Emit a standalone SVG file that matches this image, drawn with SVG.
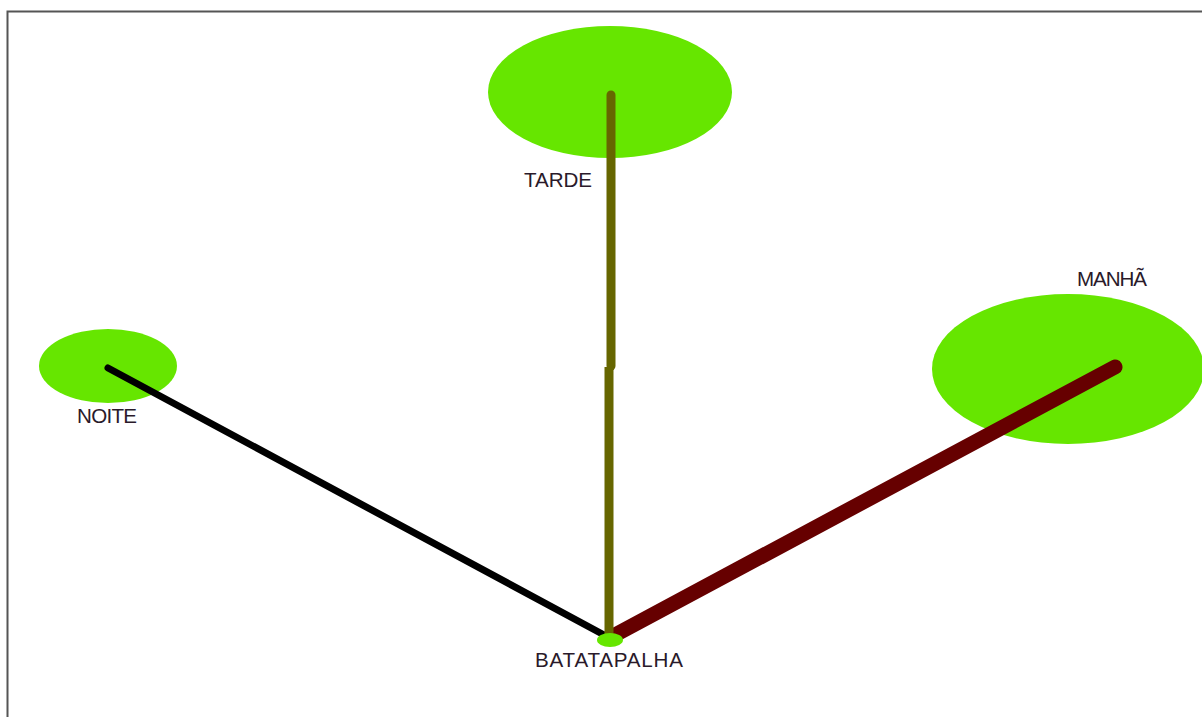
<svg xmlns="http://www.w3.org/2000/svg" width="1202" height="717" viewBox="0 0 1202 717">
<style>
.n{fill:#66e600}
.t{font-family:"Liberation Sans",Arial,sans-serif;font-size:20.6px;fill:#2a1a2a}
.c{fill:none;stroke-linecap:round}
</style>
<rect x="0" y="0" width="1202" height="717" fill="#fff"/>
<path d="M7.5 717V11.5H1202" fill="none" stroke="#555" stroke-width="2"/>
<g id="node-tarde"><ellipse class="n" cx="610" cy="92" rx="122" ry="66"/></g>
<g id="node-manha"><ellipse class="n" cx="1068" cy="369" rx="136" ry="75"/></g>
<g id="node-noite"><ellipse class="n" cx="108" cy="366" rx="69" ry="37"/></g>
<g id="connectors">
<path class="c" d="M108 368L606 636" stroke="#000" stroke-width="7"/>
<path class="c" d="M1115 367L613 636" stroke="#660000" stroke-width="15"/>
<path d="M611 95V366" stroke="#666600" stroke-width="9" stroke-linecap="round" fill="none"/>
<path d="M609 367V636" stroke="#666600" stroke-width="9" fill="none"/>
</g>
<g id="node-batatapalha"><ellipse class="n" cx="610" cy="640" rx="13" ry="7"/></g>
<text class="t" x="524" y="187" textLength="68" lengthAdjust="spacing">TARDE</text>
<text class="t" x="1077" y="286" textLength="70" lengthAdjust="spacing">MANHÃ</text>
<text class="t" x="77" y="423" textLength="60" lengthAdjust="spacing">NOITE</text>
<text class="t" x="535" y="667" textLength="148" lengthAdjust="spacing">BATATAPALHA</text>
</svg>
